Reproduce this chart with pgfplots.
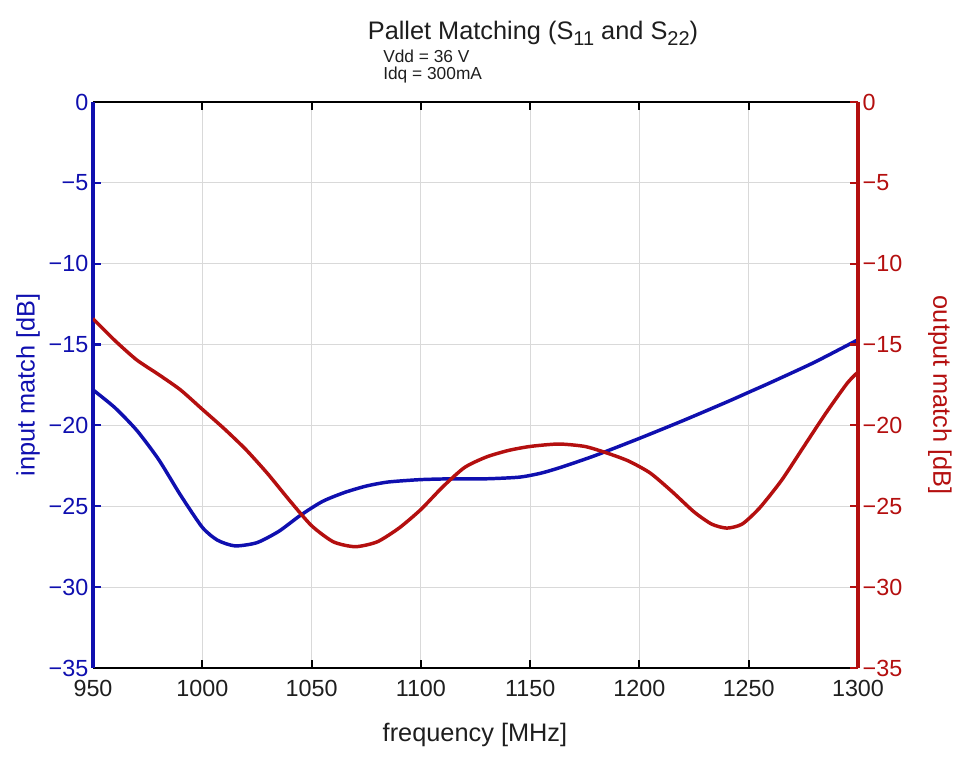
\documentclass[border=0pt]{standalone}
\usepackage{pgfplots}
\pgfplotsset{compat=1.18}
\usepackage{fontspec}
\setmainfont{Liberation Sans}
\definecolor{mblue}{RGB}{15,15,175}
\definecolor{mred}{RGB}{180,15,15}
\definecolor{txt}{RGB}{30,30,30}

\pgfplotstableread{
f s11
950 -17.8
960 -18.9
970 -20.3
980 -22.1
990 -24.3
1000 -26.3
1007 -27.1
1015 -27.45
1025 -27.25
1035 -26.55
1045 -25.55
1055 -24.7
1065 -24.15
1075 -23.75
1085 -23.5
1100 -23.35
1115 -23.3
1130 -23.3
1145 -23.2
1155 -22.95
1165 -22.55
1180 -21.85
1200 -20.8
1220 -19.7
1240 -18.55
1250 -17.95
1260 -17.35
1280 -16.1
1300 -14.7
}\sOne

\pgfplotstableread{
f s22
950 -13.4
960 -14.75
970 -15.95
980 -16.85
990 -17.8
1000 -19.0
1010 -20.2
1020 -21.5
1030 -23.0
1040 -24.65
1050 -26.2
1060 -27.2
1070 -27.5
1080 -27.2
1090 -26.35
1100 -25.2
1110 -23.8
1120 -22.6
1130 -21.95
1140 -21.55
1150 -21.3
1163 -21.15
1175 -21.3
1185 -21.7
1195 -22.2
1205 -22.95
1215 -24.1
1225 -25.35
1233 -26.1
1240 -26.35
1247 -26.1
1255 -25.1
1265 -23.4
1275 -21.35
1285 -19.3
1295 -17.4
1300 -16.7
}\sTwo

\pgfplotsset{
  common/.style={
    scale only axis, width=573.75pt, height=424.5pt,
    xmin=950, xmax=1300, ymin=-35, ymax=0,
    ytick={-35,-30,-25,-20,-15,-10,-5,0},
    yticklabels={−35,−30,−25,−20,−15,−10,−5,0},
    tick align=inside, major tick length=6pt,
    yticklabel style={font=\fontsize{17.5}{20}\selectfont},
    xticklabel style={font=\fontsize{17.5}{20}\selectfont, text=txt, yshift=-6pt},
  }
}

\begin{document}
\begin{tikzpicture}[x=1pt,y=1pt]
\path[use as bounding box] (-69.75,-70.5) rectangle (650.25,501);
\begin{axis}[common,
  axis x line*=box, axis y line*=left,
  xtick={950,1000,1050,1100,1150,1200,1250,1300},
  xticklabels={950,1000,1050,1100,1150,1200,1250,1300},
  xtick pos=both,
  x axis line style={black, line width=2.2pt},
  y axis line style={mblue, line width=2.4pt},
  x tick style={black, line width=1.6pt},
  y tick style={mblue, line width=1.6pt},
  yticklabel style={text=mblue},
  grid=major, grid style={gray!30, line width=0.6pt},
  xlabel={frequency [MHz]},
  xlabel style={at={(axis description cs:0.4993,-0.118)}, anchor=center, font=\fontsize{19}{22}\selectfont, text=txt},
  ylabel={input match [dB]},
  ylabel style={at={(axis description cs:-0.085,0.5)}, anchor=center, font=\fontsize{19}{22}\selectfont, text=mblue},
]
\addplot[mblue, line width=2.6pt, smooth, tension=0.4] table[x=f,y=s11] {\sOne};
\end{axis}
\begin{axis}[common,
  axis x line=none, axis y line*=right,
  y axis line style={mred, line width=2.4pt},
  y tick style={mred, line width=1.6pt},
  yticklabel style={text=mred},
  ylabel={output match [dB]},
  ylabel style={at={(axis description cs:1.107,0.482)}, anchor=center, rotate=180, font=\fontsize{19}{22}\selectfont, text=mred},
]
\addplot[mred, line width=2.6pt, smooth, tension=0.4] table[x=f,y=s22] {\sTwo};
\end{axis}
\node[anchor=center, text=txt, font=\fontsize{19}{22}\selectfont] at (330,476)
  {Pallet Matching (S\raisebox{-0.5ex}{\fontsize{15}{15}\selectfont 11} and S\raisebox{-0.5ex}{\fontsize{15}{15}\selectfont 22})};
\node[anchor=west, text=txt, font=\fontsize{13}{15}\selectfont, inner sep=0pt] at (217.5,459) {Vdd = 36 V};
\node[anchor=west, text=txt, font=\fontsize{13}{15}\selectfont, inner sep=0pt] at (217.5,445) {Idq = 300mA};
\end{tikzpicture}
\end{document}
